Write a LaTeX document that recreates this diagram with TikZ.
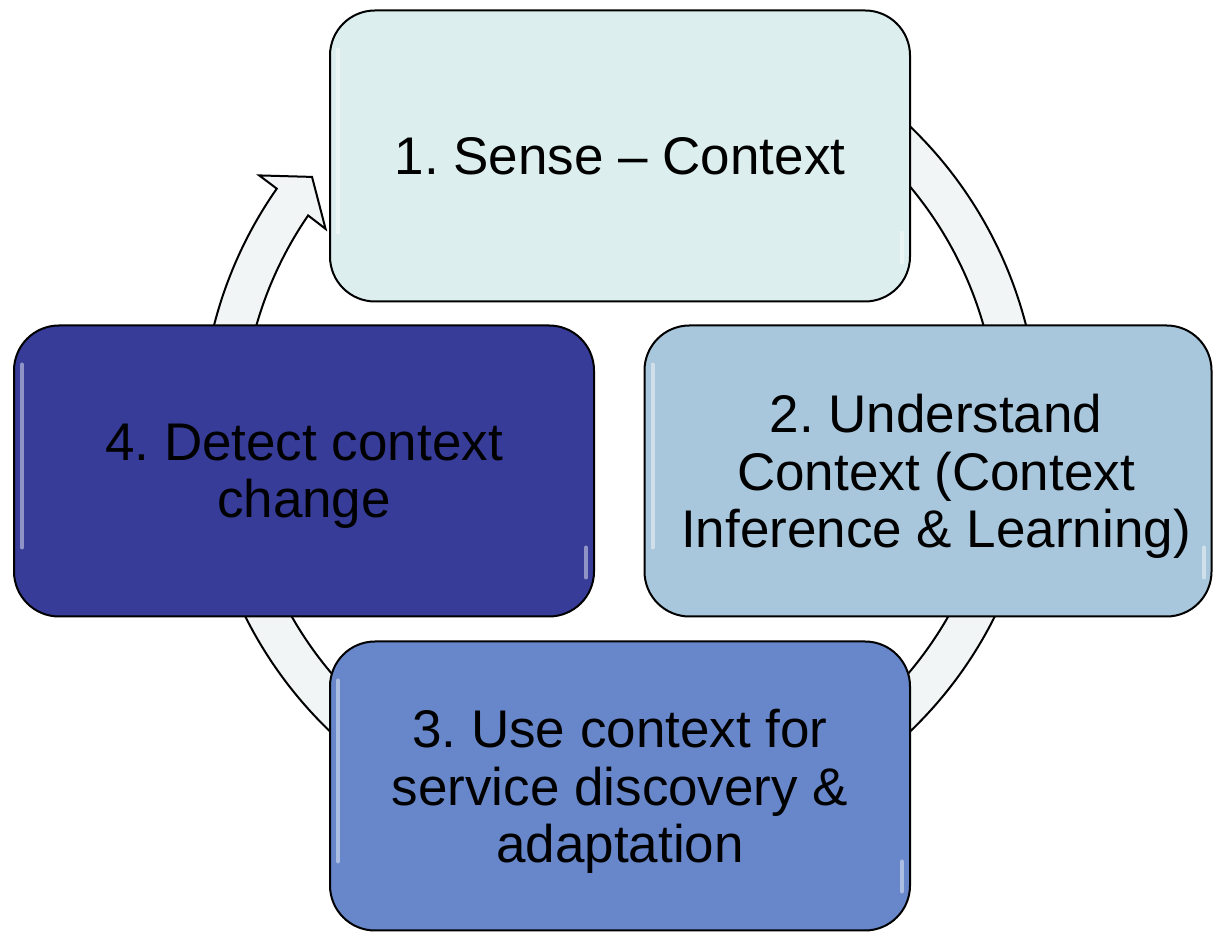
\documentclass[tikz,border=0pt]{standalone}
\usepackage{fontspec}
\setmainfont{Liberation Sans}
\frenchspacing
\definecolor{senseC}{HTML}{DCEEEE}
\definecolor{understandC}{HTML}{A8C7DC}
\definecolor{useC}{HTML}{6787CA}
\definecolor{detectC}{HTML}{363C97}
\definecolor{bandC}{HTML}{F1F5F6}
\tikzset{
    stage/.style={draw=black, line width=2pt, rounded corners=45pt,
        minimum width=580pt, minimum height=291pt, inner sep=0pt, text depth=0pt,
        align=center, font=\fontsize{53}{57.5}\selectfont},
    band/.style={fill=bandC, draw=black, line width=2pt, line join=miter},
    gloss/.style={white, opacity=.45, line width=4pt, line cap=round}
}
\begin{document}
\begin{tikzpicture}[x=1pt, y=1pt]
    \useasboundingbox (0, 0) rectangle (1215, 933);
    % circular arrow behind the boxes
    \begin{scope}[shift={(620, 504)}]
        \filldraw[band] (70:419) arc[start angle=70, end angle=-215, radius=419]
            -- (-215.1:441) -- (-219.3:398) -- (-214.2:356) -- (-214.4:378)
            arc[start angle=-214.4, end angle=70, radius=378] -- cycle;
    \end{scope}
    \node[stage, fill=senseC] (sense) at (620, 777) {1. Sense -- Context};
    \node[stage, fill=understandC, minimum width=567pt] (understand) at (928, 462)
        {\hspace*{16pt}2. Understand\\\hspace*{16pt}Context (Context\\\hspace*{16pt}Inference \& Learning)};
    \node[stage, fill=useC, minimum height=289pt] (use) at (620, 147)
        {3. Use context for\\service discovery \&\\adaptation};
    \node[stage, fill=detectC] (detect) at (304, 462) {4. Detect context\\change};
    % highlights
    \foreach \n in {sense, understand, use, detect} {
        \draw[gloss] ([xshift=9pt, yshift=-40pt]\n.north west)
            -- ([xshift=9pt, yshift=70pt]\n.south west);
        \draw[gloss] ([xshift=-9pt, yshift=40pt]\n.south east)
            -- ([xshift=-9pt, yshift=70pt]\n.south east);
    }
\end{tikzpicture}
\end{document}
